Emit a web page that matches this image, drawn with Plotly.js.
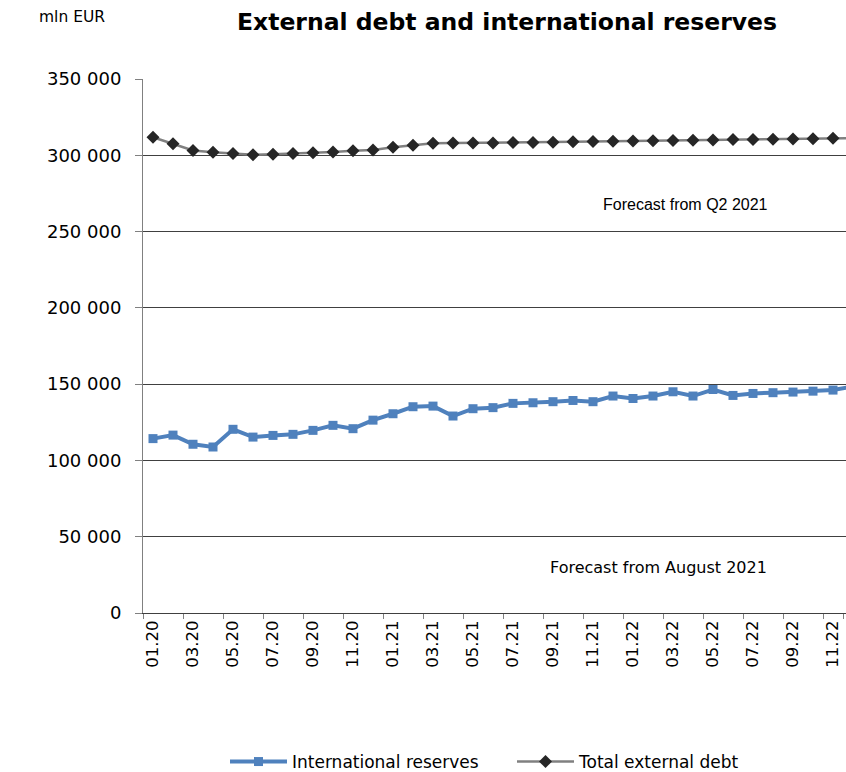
<!DOCTYPE html>
<html>
<head>
<meta charset="utf-8">
<script src="https://cdn.plot.ly/plotly-3.0.1.min.js"></script>
<style>html,body{margin:0;padding:0;background:#fff;}#chart{width:846px;height:772px;}</style>
</head>
<body>
<div id="chart"></div>
<script>
const categories = ['01.20','02.20','03.20','04.20','05.20','06.20','07.20','08.20','09.20','10.20','11.20','12.20',
                    '01.21','02.21','03.21','04.21','05.21','06.21','07.21','08.21','09.21','10.21','11.21','12.21',
                    '01.22','02.22','03.22','04.22','05.22','06.22','07.22','08.22','09.22','10.22','11.22','12.22'];
const tickLabels = ['01.20','03.20','05.20','07.20','09.20','11.20','01.21','03.21','05.21','07.21','09.21','11.21',
                    '01.22','03.22','05.22','07.22','09.22','11.22'];
const internationalReserves = [114300,116600,110600,108800,120400,115300,116400,117100,119700,123000,120800,126400,
                               130600,135200,135600,129100,133900,134600,137400,137800,138500,139300,138500,142200,
                               140600,142200,145000,142200,146500,142600,143900,144400,144800,145400,146100,148500];
const totalExternalDebt = [311800,307500,303100,302000,301100,300300,300700,301100,301600,302200,302900,303500,
                           305300,306600,307900,308000,308100,308000,308300,308400,308600,308800,309000,309200,
                           309300,309500,309700,309900,310100,310300,310400,310500,310700,310900,311200,311300];
const yTicks = [0,50000,100000,150000,200000,250000,300000,350000];

const FONT = 'DejaVu Sans, Verdana, sans-serif';

const traces = [
  {
    x: categories, y: internationalReserves, name: 'International reserves',
    type: 'scatter', mode: 'lines+markers',
    line: {color: '#4F81BD', width: 4},
    marker: {symbol: 'square', size: 9, color: '#4F81BD'}
  },
  {
    x: categories, y: totalExternalDebt, name: 'Total external debt',
    type: 'scatter', mode: 'lines+markers',
    line: {color: '#808080', width: 2.5},
    marker: {symbol: 'diamond', size: 10, color: '#262626'}
  }
];

const layout = {
  width: 846, height: 772,
  margin: {l: 143, r: 0, t: 79, b: 159, pad: 0},
  paper_bgcolor: '#ffffff', plot_bgcolor: '#ffffff',
  separators: '. ',
  font: {family: FONT, color: '#000000'},
  title: {
    text: 'External debt and international reserves',
    font: {family: FONT, size: 23.5, color: '#000000', weight: 'bold'},
    xref: 'container', yref: 'container', x: 507/846, y: 1 - 22/772, xanchor: 'center', yanchor: 'middle'
  },
  xaxis: {
    type: 'category',
    range: [-0.5, 34.65],
    tickmode: 'array', tickvals: tickLabels, ticktext: tickLabels,
    tickson: 'boundaries',
    ticks: 'outside', ticklen: 5, tickcolor: '#808080', tickwidth: 1,
    tickangle: -90,
    tickfont: {family: FONT, size: 16.5, color: '#000000'},
    showgrid: false,
    showline: true, linecolor: '#404040', linewidth: 1,
    zeroline: false, fixedrange: true
  },
  yaxis: {
    range: [0, 350000],
    tickmode: 'array', tickvals: yTicks,
    tickformat: ',d',
    ticks: 'outside', ticklen: 7, tickcolor: '#808080', tickwidth: 1,
    ticklabelstandoff: 10,
    tickfont: {family: FONT, size: 18, color: '#000000'},
    showgrid: true, gridcolor: '#404040', gridwidth: 1,
    showline: true, linecolor: '#808080', linewidth: 1,
    zeroline: false, fixedrange: true
  },
  showlegend: true,
  legend: {
    orientation: 'h',
    xref: 'container', yref: 'container',
    x: 225/846, y: 10/772, xanchor: 'left', yanchor: 'middle',
    itemwidth: 57, entrywidth: 215,
    font: {family: FONT, size: 17, color: '#000000'},
    bgcolor: 'rgba(0,0,0,0)', borderwidth: 0
  },
  annotations: [
    {
      text: 'mln EUR', xref: 'paper', yref: 'paper',
      x: (37-143)/703, y: (613.3-17)/534, xanchor: 'left', yanchor: 'middle',
      showarrow: false, font: {family: FONT, size: 15.5, color: '#000000'}
    },
    {
      text: 'Forecast from Q2 2021', xref: 'paper', yref: 'paper',
      x: (685-143)/703, y: (613.3-205)/534, xanchor: 'center', yanchor: 'middle',
      showarrow: false, font: {family: 'Liberation Sans, Arial, sans-serif', size: 16, color: '#000000'}
    },
    {
      text: 'Forecast from August 2021', xref: 'paper', yref: 'paper',
      x: (658-143)/703, y: (613.3-568)/534, xanchor: 'center', yanchor: 'middle',
      showarrow: false, font: {family: FONT, size: 16, color: '#000000'}
    }
  ]
};

Plotly.newPlot('chart', traces, layout, {displayModeBar: false, staticPlot: true});
</script>
</body>
</html>
